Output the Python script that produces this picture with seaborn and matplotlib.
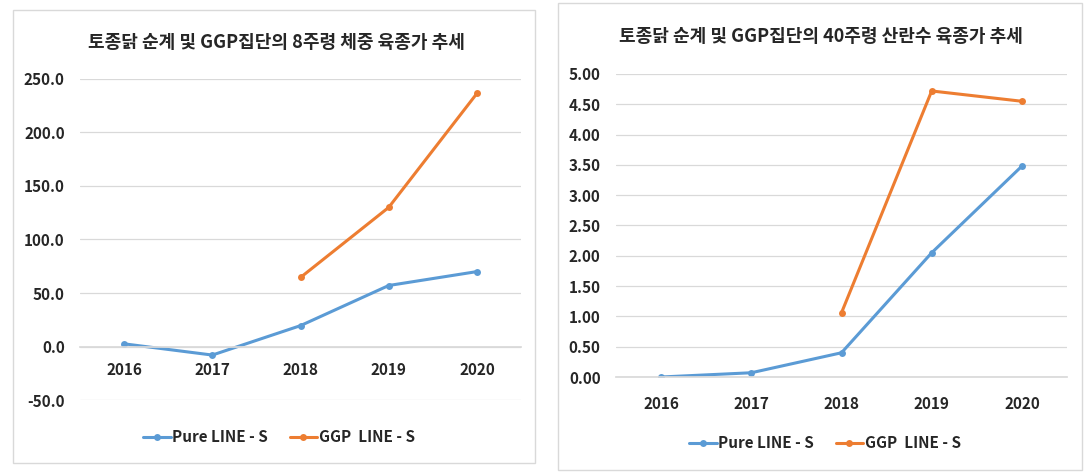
import numpy as np
import pandas as pd
import matplotlib
matplotlib.use("Agg")
import matplotlib.pyplot as plt
import seaborn as sns
from matplotlib.patches import Rectangle

sns.set_theme(style="white")
plt.rcParams["font.family"] = ["Noto Sans CJK KR", "DejaVu Sans"]

YEARS = [2016, 2017, 2018, 2019, 2020]
SERIES = ["Pure LINE - S", "GGP  LINE - S"]
COLORS = ["#5B9BD5", "#ED7D31"]

# 8주령 체중 육종가
weight_pure = [2.5, -8.0, 19.5, 57.0, 70.0]
weight_ggp = [np.nan, np.nan, 64.5, 130.0, 236.5]

# 40주령 산란수 육종가
egg_pure = [0.00, 0.07, 0.40, 2.05, 3.48]
egg_ggp = [np.nan, np.nan, 1.06, 4.72, 4.55]

TITLE_L = "토종닭 순계 및 GGP집단의 8주령 체중 육종가 추세"
TITLE_R = "토종닭 순계 및 GGP집단의 40주령 산란수 육종가 추세"


def long_df(pure, ggp):
    return pd.DataFrame({
        "year": YEARS * 2,
        "value": list(pure) + list(ggp),
        "series": [SERIES[0]] * 5 + [SERIES[1]] * 5,
    })


def draw(ax, df, ylim, step, fmt, x_at_zero, xpad):
    sns.lineplot(data=df, x="year", y="value", hue="series", hue_order=SERIES,
                 palette=COLORS, marker="o", markersize=5, markeredgewidth=0,
                 linewidth=2.2, ax=ax, legend=True)
    ax.set_xlim(2015.5, 2020.5)
    ax.set_ylim(*ylim)
    ticks = np.arange(ylim[0], ylim[1] + step / 2, step)
    ax.set_yticks(ticks)
    ax.set_yticklabels([fmt.format(t) for t in ticks])
    ax.set_xticks(YEARS)
    ax.set_xticklabels([str(y) for y in YEARS])
    for t in ticks:
        ax.axhline(t, color="#D9D9D9", lw=0.9, zorder=0)
    for s in ["left", "right", "top"]:
        ax.spines[s].set_visible(False)
    ax.spines["bottom"].set_color("#D9D9D9")
    if x_at_zero:
        ax.spines["bottom"].set_position(("data", 0))
    ax.tick_params(axis="x", length=0, pad=xpad, labelsize=11)
    ax.tick_params(axis="y", length=0, pad=11, labelsize=11)
    for lab in ax.get_xticklabels() + ax.get_yticklabels():
        lab.set_fontweight("bold")
        lab.set_color("#262626")
    ax.set_xlabel("")
    ax.set_ylabel("")
    handles, labels = ax.get_legend_handles_labels()
    ax.get_legend().remove()
    return handles, labels


fig = plt.figure(figsize=(10.9, 4.73), dpi=100)

# panel frames
fig.patches.append(Rectangle((13 / 1090, 1 - 463 / 473), 522 / 1090, 453 / 473,
                             transform=fig.transFigure, fill=False,
                             edgecolor="#D9D9D9", lw=1))
fig.patches.append(Rectangle((558 / 1090, 1 - 470 / 473), 524 / 1090, 467 / 473,
                             transform=fig.transFigure, fill=False,
                             edgecolor="#D9D9D9", lw=1))

ax1 = fig.add_axes([80 / 1090, 73 / 473, 441 / 1090, 321 / 473])
h, l = draw(ax1, long_df(weight_pure, weight_ggp), (-50, 250), 50, "{:.1f}",
            True, 11)

ax2 = fig.add_axes([616 / 1090, 96 / 473, 451 / 1090, 303 / 473])
draw(ax2, long_df(egg_pure, egg_ggp), (0, 5), 0.5, "{:.2f}", False, 14)

fig.text(276 / 1090, 1 - 43 / 473, TITLE_L, ha="center", va="center",
         fontsize=13, fontweight="bold", color="#262626")
fig.text(821 / 1090, 1 - 37 / 473, TITLE_R, ha="center", va="center",
         fontsize=13, fontweight="bold", color="#262626")

for cx, cy in [(279, 437), (825, 443)]:
    fig.legend(h, l, loc="center", bbox_to_anchor=(cx / 1090, 1 - cy / 473),
               ncol=2, frameon=False, handlelength=1.8, columnspacing=1.4,
               handletextpad=0.1, prop={"weight": "bold", "size": 11})

fig.savefig("out.png", dpi=100)
